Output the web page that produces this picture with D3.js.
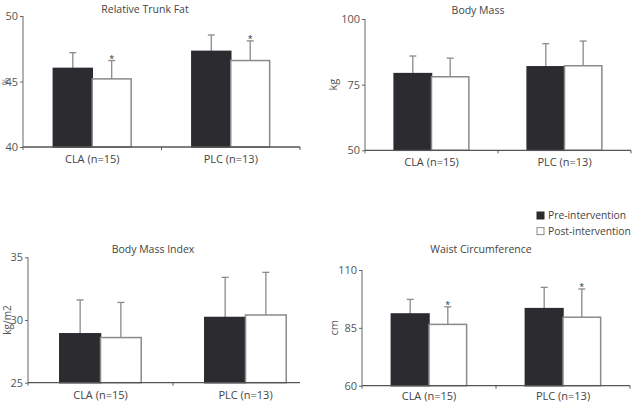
<!DOCTYPE html>
<html><head><meta charset="utf-8">
<script src="https://cdn.jsdelivr.net/npm/d3@7"></script>
<style>
body{margin:0;background:#fff;}
svg{display:block;font-family:"Open Sans",sans-serif;}
</style></head>
<body><svg id="c" width="637" height="402"></svg>
<script>
const categories = ["CLA (n=15)", "PLC (n=13)"];
const seriesNames = ["Pre-intervention", "Post-intervention"];

const trunkFatPre = [46.0, 47.3];
const trunkFatPreErr = [1.2, 1.25];
const trunkFatPost = [45.2, 46.6];
const trunkFatPostErr = [1.4, 1.5];
const trunkFatTicks = [40, 45, 50];

const bodyMassPre = [79.2, 81.8];
const bodyMassPreErr = [6.7, 8.8];
const bodyMassPost = [78.0, 82.2];
const bodyMassPostErr = [7.1, 9.4];
const bodyMassTicks = [50, 75, 100];

const bmiPre = [28.9, 30.2];
const bmiPreErr = [2.7, 3.2];
const bmiPost = [28.6, 30.4];
const bmiPostErr = [2.8, 3.4];
const bmiTicks = [25, 30, 35];

const waistPre = [91.0, 93.3];
const waistPreErr = [6.3, 9.2];
const waistPost = [86.5, 89.6];
const waistPostErr = [7.6, 12.2];
const waistTicks = [60, 85, 110];

const trunkFatSig = [false, false, true, true];   // [pre CLA, pre PLC, post CLA, post PLC]
const waistSig = [false, false, true, true];

const panels = [
  {title:"Relative Trunk Fat", unit:"%", pre:trunkFatPre, preErr:trunkFatPreErr, post:trunkFatPost, postErr:trunkFatPostErr, ticks:trunkFatTicks, sig:trunkFatSig,
   x0:23, x1:300, bandEnd:300, yTop:16, yBot:147, titleX:145, titleY:13, unitX:6, unitSize:9, labelY:163},
  {title:"Body Mass", unit:"kg", pre:bodyMassPre, preErr:bodyMassPreErr, post:bodyMassPost, postErr:bodyMassPostErr, ticks:bodyMassTicks, sig:[false,false,false,false],
   x0:365, x1:631, bandEnd:631, yTop:19, yBot:150.3, titleX:478, titleY:14, unitX:333, unitSize:11, labelY:166},
  {title:"Body Mass Index", unit:"kg/m2", pre:bmiPre, preErr:bmiPreErr, post:bmiPost, postErr:bmiPostErr, ticks:bmiTicks, sig:[false,false,false,false],
   x0:28, x1:300, bandEnd:318, yTop:257.3, yBot:382.7, titleX:153, titleY:253, unitX:7, unitSize:10, labelY:399},
  {title:"Waist Circumference", unit:"cm", pre:waistPre, preErr:waistPreErr, post:waistPost, postErr:waistPostErr, ticks:waistTicks, sig:waistSig,
   x0:362, x1:630, bandEnd:630, yTop:270, yBot:385.7, titleX:481, titleY:253, unitX:334, unitSize:11, labelY:400}
];

const svg = d3.select("#c");
const dark = "#2b2b30", grey = "#8a8a8a", axisCol = "#666", txt = "#444";

panels.forEach(p => {
  const g = svg.append("g");
  const y = d3.scaleLinear().domain([p.ticks[0], p.ticks[p.ticks.length-1]]).range([p.yBot, p.yTop]);
  const x = d3.scaleBand().domain(categories).range([p.x0, p.bandEnd]).paddingInner(0).paddingOuter(0);
  const xs = d3.scaleBand().domain(seriesNames).range([0, x.bandwidth()]).paddingInner(0).paddingOuter(0.78);

  // y axis
  const ya = d3.axisLeft(y).tickValues(p.ticks).tickSize(3).tickPadding(2).tickSizeOuter(0);
  const yg = g.append("g").attr("transform", `translate(${p.x0},0)`).call(ya);
  yg.select(".domain").attr("stroke", axisCol).attr("d", `M0,${p.yTop}V${p.yBot+3}`);
  yg.selectAll(".tick line").attr("stroke", axisCol);
  yg.selectAll(".tick text").attr("fill", "#555").attr("font-size", 11).attr("font-family", "'Open Sans',sans-serif");

  // unit label
  g.append("text").attr("transform", `translate(${p.unitX},${(p.yTop+p.yBot)/2}) rotate(-90)`)
    .attr("text-anchor","middle").attr("dy","0.35em").attr("font-size",p.unitSize).attr("fill","#555").text(p.unit);

  // title
  g.append("text").attr("x", p.titleX).attr("y", p.titleY).attr("text-anchor","middle")
    .attr("font-size", 10.5).attr("fill", txt).text(p.title);

  // bars data
  const rows = [];
  categories.forEach((c,i) => {
    rows.push({cat:c, s:seriesNames[0], v:p.pre[i], e:p.preErr[i], sig:p.sig[i]});
    rows.push({cat:c, s:seriesNames[1], v:p.post[i], e:p.postErr[i], sig:p.sig[2+i]});
  });

  // error bars (behind bars)
  rows.forEach(d => {
    const cx = x(d.cat) + xs(d.s) + xs.bandwidth()/2;
    g.append("line").attr("x1",cx).attr("x2",cx).attr("y1",y(d.v)).attr("y2",y(d.v+d.e)).attr("stroke",grey).attr("stroke-width",1.3);
    g.append("line").attr("x1",cx-3.5).attr("x2",cx+3.5).attr("y1",y(d.v+d.e)).attr("y2",y(d.v+d.e)).attr("stroke",grey).attr("stroke-width",1.3);
    if (d.sig) {
      g.append("text").attr("x",cx).attr("y",y(d.v+d.e)+1).attr("text-anchor","middle")
        .attr("font-size",9).attr("fill","#333").text("*");
    }
  });

  g.selectAll("rect.bar").data(rows).join("rect").attr("class","bar")
    .attr("x", d => x(d.cat) + xs(d.s))
    .attr("y", d => y(d.v))
    .attr("width", xs.bandwidth())
    .attr("height", d => y(p.ticks[0]) - y(d.v))
    .attr("fill", d => d.s === seriesNames[0] ? dark : "#fff")
    .attr("stroke", d => d.s === seriesNames[0] ? dark : grey)
    .attr("stroke-width", 1.5);

  // x axis
  const xa = d3.axisBottom(x).tickSize(0).tickPadding(0);
  const xg = g.append("g").attr("transform", `translate(0,${p.yBot})`).call(xa);
  xg.select(".domain").attr("stroke", "#555").attr("stroke-width",1.3).attr("d", `M${p.x0},0H${p.x1}`);
  xg.selectAll(".tick text").attr("fill", txt).attr("font-size", 11).attr("font-family", "'Open Sans',sans-serif")
    .attr("y", p.labelY - p.yBot).attr("dy", 0);
  // category boundary ticks
  const bounds = [x(categories[1])];
  if (p.x1 === p.bandEnd) bounds.push(p.x1);
  bounds.forEach(bx => xg.append("line").attr("x1",bx).attr("x2",bx).attr("y1",0).attr("y2",3).attr("stroke","#555"));
});

// legend
const leg = svg.append("g").attr("transform","translate(537,212)");
seriesNames.forEach((s,i) => {
  leg.append("rect").attr("x",0).attr("y",i*15.6).attr("width",7).attr("height",7)
    .attr("fill", i===0 ? dark : "#fff").attr("stroke", i===0 ? dark : grey).attr("stroke-width",1);
  leg.append("text").attr("x",11).attr("y",i*15.6+3.5).attr("dy","0.35em").attr("font-size",10.3).attr("fill",txt).text(s);
});
</script></body></html>
